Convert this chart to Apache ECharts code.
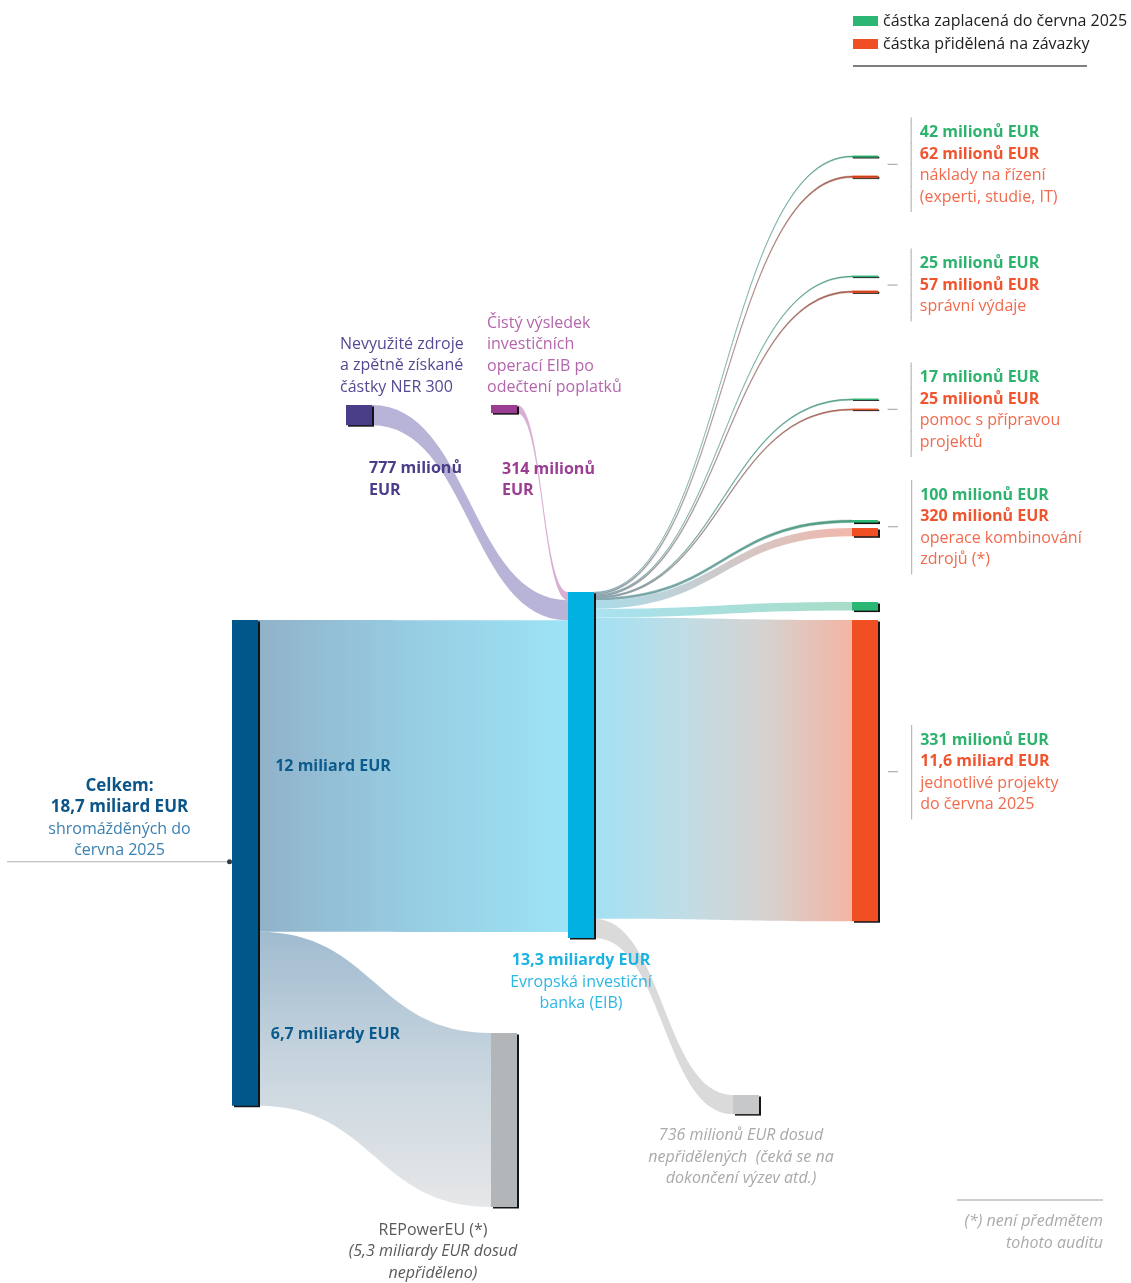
<!DOCTYPE html>
<html><head><meta charset="utf-8">
<script src="https://cdn.jsdelivr.net/npm/echarts@6/dist/echarts.min.js"></script>
<style>html,body{margin:0;padding:0;background:#fff}#c{width:1131px;height:1283px}</style>
</head><body><div id="c"></div>
<script>
// ---------------- DATA (values in billion EUR) ----------------
const nodeIds = ['eibres','ner','total','eib','repower','mgmtG','mgmtR','admG','admR','pdaG','pdaR','blendG','blendR','projG','projR','unalloc'];
const linkSources = ['total','total','ner','eibres','eib','eib','eib','eib','eib','eib','eib','eib','eib','eib','eib'];
const linkTargets = ['eib','repower','eib','eib','mgmtG','mgmtR','admG','admR','pdaG','pdaR','blendG','blendR','projG','projR','unalloc'];
const linkValues  = [12.0, 6.7, 0.777, 0.314, 0.042, 0.062, 0.025, 0.057, 0.017, 0.025, 0.100, 0.320, 0.331, 11.6, 0.736];
const linkLabels  = ['12 miliard EUR', '6,7 miliardy EUR'];

const categoryNodes = ['mgmtR','admR','pdaR','blendR','projR'];
const categoryNames = ['náklady na řízení\n(experti, studie, IT)', 'správní výdaje', 'pomoc s přípravou\nprojektů', 'operace kombinování\nzdrojů (*)', 'jednotlivé projekty\ndo června 2025'];
const paidLabels = ['42 milionů EUR','25 milionů EUR','17 milionů EUR','100 milionů EUR','331 milionů EUR'];
const committedLabels = ['62 milionů EUR','57 milionů EUR','25 milionů EUR','320 milionů EUR','11,6 miliard EUR'];
const legendNames = ['částka zaplacená do června 2025','částka přidělená na závazky'];

const totalText = ['Celkem:', '18,7 miliard EUR', 'shromážděných do', 'června 2025'];
const eibText = ['13,3 miliardy EUR', 'Evropská investiční', 'banka (EIB)'];
const nerText = ['Nevyužité zdroje', 'a zpětně získané', 'částky NER 300', '777 milionů', 'EUR'];
const eibresText = ['Čistý výsledek', 'investičních', 'operací EIB po', 'odečtení poplatků', '314 milionů', 'EUR'];
const repowerText = ['REPowerEU (*)', '(5,3 miliardy EUR dosud', 'nepřiděleno)'];
const unallocText = ['736 milionů EUR dosud', 'nepřidělených  (čeká se na', 'dokončení výzev atd.)'];
const footnoteText = ['(*) není předmětem', 'tohoto auditu'];

// ---------------- LAYOUT / STYLE ----------------
const FONT = 'Open Sans';
const FS = 16;
const LH = 21.5;
const BOX_W = 1131, BOX_H = 521;
const NODE_POS = {
  eibres:[491,405], ner:[346,405], total:[232,620], eib:[568,592], repower:[491,1033],
  mgmtG:[852,156], mgmtR:[852,176], admG:[852,276], admR:[852,291], pdaG:[852,399], pdaR:[852,409],
  blendG:[852,520], blendR:[852,528], projG:[852,602], projR:[852,620], unalloc:[733,1095]
};
const GREEN = '#2bb673', RED = '#f04e23';
const NODE_COLOR = {
  eibres:'#9b3d92', ner:'#4b3e89', total:'#00578a', eib:'#00b1e1', repower:'#b3b6b9', unalloc:'#c6c8ca',
  mgmtG:GREEN, admG:GREEN, pdaG:GREEN, blendG:GREEN, projG:GREEN,
  mgmtR:RED, admR:RED, pdaR:RED, blendR:RED, projR:RED
};
const THIN_NODES = ['mgmtG','mgmtR','admG','admR','pdaG','pdaR'];
const CAT_FIRST_LINE_Y = [133, 264, 378, 495, 740];

function lin(stops, vertical) {
  return {type:'linear', x:0, y:0, x2: vertical ? 0 : 1, y2: vertical ? 1 : 0,
    colorStops: stops.map((c,i)=>({offset: i/(stops.length-1), color:c}))};
}
const thinGreen = lin(['#86aab6','#4e9c80']);
const thinRed = lin(['#8ea3ad','#a85a4c']);
const LINK_STYLE = {
  'total>eib': {color: lin(['#90b2c9','#97cde3','#9de3f6'])},
  'total>repower': {color: lin(['#a0bbcf','#c9d6df','#e6e7e8'], true)},
  'ner>eib': {color: '#b8b4d7'},
  'eibres>eib': {color: '#d8b0d4'},
  'eib>projR': {color: lin(['#a2e1f3','#bfdde6','#d6d2d0','#f4b4a3'])},
  'eib>projG': {color: lin(['#a9e2f1','#a7dcc6'])},
  'eib>blendR': {color: lin(['#a9dcea','#f2b7ab'])},
  'eib>blendG': {color: thinGreen, borderColor: thinGreen, borderWidth: 0.4},
  'eib>unalloc': {color: '#dadada'},
  'eib>mgmtG': {color: thinGreen, borderColor: thinGreen, borderWidth: 0.4},
  'eib>admG': {color: thinGreen, borderColor: thinGreen, borderWidth: 0.4},
  'eib>pdaG': {color: thinGreen, borderColor: thinGreen, borderWidth: 0.6},
  'eib>mgmtR': {color: thinRed, borderColor: thinRed, borderWidth: 0.4},
  'eib>admR': {color: thinRed, borderColor: thinRed, borderWidth: 0.4},
  'eib>pdaR': {color: thinRed, borderColor: thinRed, borderWidth: 0.6}
};

const base = {fontFamily: FONT, fontSize: FS, lineHeight: LH};
function rs(o) { return Object.assign({}, base, o); }

function catLabel(i) {
  const lines = [['g', paidLabels[i]], ['r', committedLabels[i]]]
    .concat(categoryNames[i].split('\n').map(t => ['n', t]));
  const n = lines.length;
  const dashLine = n % 2 ? (n - 1) / 2 : n / 2 - 1;
  const dashStyle = n % 2 ? 'd' : 'dB';
  const body = lines.map((l, k) => (k === dashLine ? `{${dashStyle}|}` : '{e|}') + '{sp|}{v|}{sp2|}' + `{${l[0]}|${l[1]}}`);
  const txt = ['{es|}{vs|}'].concat(body).concat(['{es|}{vs|}']).join('\n');
  const blockTop = CAT_FIRST_LINE_Y[i] - LH / 2 - 4;
  const nodeTop = NODE_POS[categoryNodes[i]][1];
  return {
    show: true, position: [36, blockTop - nodeTop], align: 'left', verticalAlign: 'top',
    formatter: txt,
    rich: {
      d: {width: 10, height: 1, lineHeight: LH, backgroundColor: '#9c9c9c'},
      dB: {width: 10, height: 1, lineHeight: LH, backgroundColor: '#9c9c9c', verticalAlign: 'bottom'},
      e: {width: 10, height: 1, lineHeight: 4},
      es: {width: 23, height: 4, lineHeight: 4},
      sp: {width: 13, height: 1, lineHeight: 4},
      v: {width: 1.2, height: 22.5, lineHeight: 4, backgroundColor: '#b9b9b9'},
      vs: {width: 1.2, height: 4.5, lineHeight: 4, backgroundColor: '#b9b9b9'},
      sp2: {width: 8, height: 1, lineHeight: 4},
      g: rs({color: '#2eb36e', fontWeight: 'bold'}),
      r: rs({color: '#f0552f', fontWeight: 'bold'}),
      n: rs({color: '#f26a4c'})
    }
  };
}

const LABELS = {};
categoryNodes.forEach((id, i) => { LABELS[id] = catLabel(i); });
LABELS.total = {
  show: true, position: [119.5 - 232, 786 - LH/2 - 620], align: 'center', verticalAlign: 'top',
  formatter: `{b|${totalText[0]}}\n{b|${totalText[1]}}\n{n|${totalText[2]}}\n{n|${totalText[3]}}\n{ln|}{dot|}`,
  rich: {
    b: rs({color: '#0b5589', fontWeight: 'bold', fontSize: 17}),
    n: rs({color: '#3b80b0'}),
    ln: {width: 220, height: 1, lineHeight: 1, backgroundColor: '#b0b0b0'},
    dot: {width: 5, height: 5, lineHeight: 1, borderRadius: 2.5, backgroundColor: '#2f3a44'}
  }
};
LABELS.eib = {
  show: true, position: 'bottom', distance: 12, align: 'center',
  formatter: `{b|${eibText[0]}}\n{n|${eibText[1]}}\n{n|${eibText[2]}}`,
  rich: { b: rs({color: '#1ab3e3', fontWeight: 'bold'}), n: rs({color: '#2bb7e6'}) }
};
LABELS.ner = {
  show: true, position: [-6, 344 - LH/2 - 405], align: 'left', verticalAlign: 'top',
  formatter: `{p|${nerText[0]}}\n{p|${nerText[1]}}\n{p|${nerText[2]}}\n{gap|}\n{s|}{b|${nerText[3]}}\n{s|}{b|${nerText[4]}}`,
  rich: {
    p: rs({color: '#544a93'}), b: rs({color: '#4b3e89', fontWeight: 'bold'}),
    gap: {height: 60, lineHeight: 60, width: 1}, s: {width: 29, height: 1}
  }
};
LABELS.eibres = {
  show: true, position: [-4, 323 - LH/2 - 405], align: 'left', verticalAlign: 'top',
  formatter: `{p|${eibresText[0]}}\n{p|${eibresText[1]}}\n{p|${eibresText[2]}}\n{p|${eibresText[3]}}\n{gap|}\n{s|}{b|${eibresText[4]}}\n{s|}{b|${eibresText[5]}}`,
  rich: {
    p: rs({color: '#b466ac'}), b: rs({color: '#9b3d92', fontWeight: 'bold'}),
    gap: {height: 60, lineHeight: 60, width: 1}, s: {width: 15, height: 1}
  }
};
LABELS.repower = {
  show: true, position: [433 - 491, 1230 - LH/2 - 1033], align: 'center', verticalAlign: 'top',
  formatter: `{n|${repowerText[0]}}\n{i|${repowerText[1]}}\n{i|${repowerText[2]}}`,
  rich: { n: rs({color: '#5a5a5a'}), i: rs({color: '#5a5a5a', fontStyle: 'italic'}) }
};
LABELS.unalloc = {
  show: true, position: 'bottom', distance: 11, offset: [-5, 0], align: 'center',
  formatter: unallocText.map(t => `{i|${t}}`).join('\n'),
  rich: { i: rs({color: '#a9a9a9', fontStyle: 'italic'}) }
};

const nodes = nodeIds.map(id => {
  const thin = THIN_NODES.indexOf(id) >= 0;
  return {
    name: id,
    localX: NODE_POS[id][0] / BOX_W,
    localY: NODE_POS[id][1] / BOX_H,
    itemStyle: thin
      ? {color: NODE_COLOR[id], borderColor: NODE_COLOR[id], borderWidth: 0.9, shadowOffsetY: 1, shadowOffsetX: 1, shadowColor: 'rgba(20,20,20,0.8)'}
      : {color: NODE_COLOR[id]},
    label: LABELS[id] || {show: false}
  };
});

const links = linkSources.map((s, i) => {
  const key = s + '>' + linkTargets[i];
  const ls = Object.assign({opacity: 1}, LINK_STYLE[key] || {color: '#ccc'});
  const o = {source: s, target: linkTargets[i], value: linkValues[i], lineStyle: ls};
  if (i < linkLabels.length) {
    o.edgeLabel = {show: true, formatter: linkLabels[i], fontFamily: FONT, fontSize: FS,
      fontWeight: 'bold', color: '#0d5a8c',
      offset: i === 0 ? [-80, -10] : [-39, -35]};
  }
  return o;
});

const chart = echarts.init(document.getElementById('c'), null, {renderer: 'canvas'});
chart.setOption({
  animation: false,
  backgroundColor: '#ffffff',
  textStyle: {fontFamily: FONT},
  tooltip: {show: false},
  legend: {
    data: legendNames, left: 853, top: 11.5, padding: 0, orient: 'vertical', icon: 'rect',
    itemWidth: 25, itemHeight: 10, itemGap: 4, selectedMode: false,
    textStyle: {fontFamily: FONT, fontSize: FS, lineHeight: 19, color: '#1d1d1d'}
  },
  grid: {show: false, left: 0, top: 0, width: 1, height: 1},
  xAxis: {show: false, type: 'value'},
  yAxis: {show: false, type: 'value'},
  graphic: [
    {type: 'line', shape: {x1: 853, y1: 66, x2: 1087, y2: 66}, style: {stroke: '#555', lineWidth: 1.5}},
    {type: 'line', shape: {x1: 957, y1: 1200, x2: 1103, y2: 1200}, style: {stroke: '#bdbdbd', lineWidth: 1.5}},
    {type: 'text', x: 1103, y: 1211, style: {text: footnoteText.join('\n'), align: 'right', verticalAlign: 'top',
      font: `italic ${FS}px ${FONT}`, lineHeight: LH, fill: '#aaaaaa'}}
  ],
  series: [
    {name: legendNames[0], type: 'scatter', data: [], itemStyle: {color: GREEN, opacity: 1}},
    {name: legendNames[1], type: 'scatter', data: [], itemStyle: {color: RED, opacity: 1}},
    {
      type: 'sankey', left: 0, top: 0, width: BOX_W, height: BOX_H,
      nodeWidth: 26, nodeGap: 1, nodeAlign: 'left', layoutIterations: 0,
      draggable: false, emphasis: {disabled: true},
      itemStyle: {borderWidth: 0, shadowColor: 'rgba(10,10,10,0.95)', shadowOffsetX: 2, shadowOffsetY: 1.5, shadowBlur: 0},
      lineStyle: {opacity: 1, curveness: 0.5},
      label: {show: false},
      edgeLabel: {show: false},
      data: nodes,
      links: links
    }
  ]
});
</script></body></html>
